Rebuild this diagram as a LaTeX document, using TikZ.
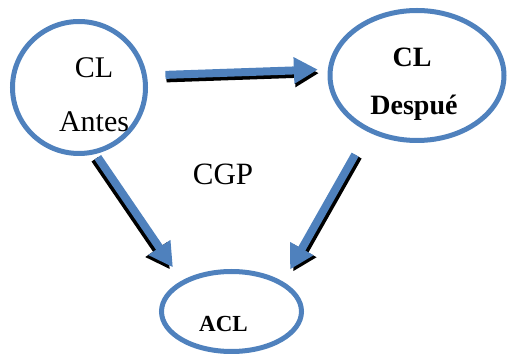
\documentclass[tikz,border=0pt]{standalone}
\usepackage{fontspec}
\setmainfont{Liberation Serif}
\usepackage{xcolor}
\usepackage{tikz}
\usetikzlibrary{arrows.meta,shapes.geometric}
\definecolor{cgpblue}{RGB}{79,129,189}
\tikzset{
  ring/.style={ellipse,draw=cgpblue,line width=5pt,inner sep=0pt},
  blu/.style={draw=cgpblue,line width=8pt,-{Triangle[width=25pt,length=24pt]}},
  blk/.style={draw=black,line width=8pt,-{Triangle[width=25pt,length=24pt]}},
  lbl/.style={anchor=base,inner sep=0pt}
}
\begin{document}
\begin{tikzpicture}[x=1pt,y=1pt]
  \useasboundingbox (0,0) rectangle (507,356);
  % the three states
  \node[ring,minimum width=133pt,minimum height=132pt] (antes) at (79,268.5) {};
  \node[ring,minimum width=174pt,minimum height=130pt] (despues) at (417,280.5) {};
  \node[ring,minimum width=140pt,minimum height=80pt] (acl) at (231.5,44.5) {};
  % texts
  \node[lbl,font=\fontsize{30}{36}\selectfont] (antesA) at (94,278) {CL};
  \node[lbl,font=\fontsize{30}{36}\selectfont] (antesB) at (94,224) {Antes};
  \node[lbl,font=\fontsize{28}{34}\selectfont\bfseries] (despuesA) at (412,289) {CL};
  \node[lbl,font=\fontsize{28}{34}\selectfont\bfseries] (despuesB) at (414,241) {Despué};
  \node[lbl,font=\fontsize{31}{37}\selectfont] (cgp) at (223,171) {CGP};
  \node[lbl,font=\fontsize{23}{28}\selectfont\bfseries] (aclA) at (223.5,24) {ACL};
  % shadows
  \draw[blk,transform canvas={shift={(1pt,-3.5pt)}},shorten <=18.5pt,shorten >=10pt] (antes.10) -- (despues.176);
  \draw[blk,transform canvas={shift={(-3pt,-2pt)}},shorten <=4pt,shorten >=16pt] (antes.-76) -- (acl.148);
  \draw[blk,transform canvas={shift={(3pt,-2pt)}},shorten <=26pt,shorten >=14pt] (despues.229) -- (acl.30);
  % arrows
  \draw[blu,shorten <=18.5pt,shorten >=10pt] (antes.10) -- (despues.176);
  \draw[blu,shorten <=4pt,shorten >=16pt] (antes.-76) -- (acl.148);
  \draw[blu,shorten <=26pt,shorten >=14pt] (despues.229) -- (acl.30);
\end{tikzpicture}
\end{document}
